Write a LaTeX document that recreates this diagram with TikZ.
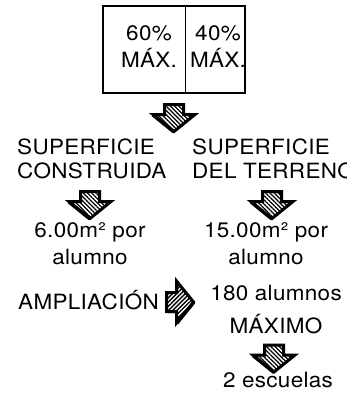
\documentclass[tikz,border=0pt]{standalone}
\usepackage{fontspec}
\setmainfont{TeX Gyre Heros}[FakeStretch=1.07, LetterSpace=1.5]
\usetikzlibrary{patterns.meta}

\tikzset{
  pics/blockarrow/.style={code={
      \fill[black] (-11,1.5) -- (8,1.5) -- (8,11.5) -- (19.5,11.5) -- (-1.5,28.5)
                   -- (-22.5,11.5) -- (-11,11.5) -- cycle;
      \draw[line width=3pt, line join=miter, fill=white,
            postaction={pattern={Lines[angle=#1, distance=3pt, line width=1.3pt]}}]
            (-9.5,0) -- (9.5,0) -- (9.5,10) -- (21,10) -- (0,27) -- (-21,10)
            -- (-9.5,10) -- cycle;
  }},
}

\begin{document}
\begin{tikzpicture}[x=1pt, y=-1pt, font=\fontsize{21}{26}\selectfont,
        txt/.style={inner sep=0pt, align=center, anchor=base},
        txtl/.style={inner sep=0pt, align=left, anchor=base west}]
        \useasboundingbox (0,0) rectangle (347,394);
        % reparto de la superficie
        \node[draw, line width=1.8pt, inner sep=0pt, minimum width=142pt,
              minimum height=87pt] (frame) at (174,49.5) {};
        \draw[line width=1pt] ([xshift=11pt]frame.north) -- ([xshift=11pt]frame.south);
        \node[txt] (pctl) at (149,67) {60\%\\[1pt]MÁX.};
        \node[txt] (pctr) at (218,67) {40\%\\[1pt]MÁX.};
        \pic (a1) at (174,104.5) {blockarrow=-45};
        \node[txtl] (supl) at (17,178) {SUPERFICIE\\[-2pt]CONSTRUIDA};
        \node[txtl] (supr) at (192,178) {SUPERFICIE\\[-2pt]DEL TERRENO};
        \pic (a2) at (90,191.5) {blockarrow=-45};
        \pic (a3) at (272,191.5) {blockarrow=-45};
        \node[txt] (ratl) at (90,264) {6.00m² por\\[1pt]alumno};
        \node[txt] (ratr) at (266,264) {15.00m² por\\[1pt]alumno};
        % ampliacion
        \node[txtl] (ampl) at (18,309) {AMPLIACIÓN};
        \pic[rotate=90] (a4) at (166.5,302) {blockarrow=45};
        \node[txt] (maxal) at (276,333) {180 alumnos\\[7pt]MÁXIMO};
        \pic (a5) at (274,345) {blockarrow=-45};
        \node[txt] (esc) at (278,387) {2 escuelas};
      \end{tikzpicture}
\end{document}
